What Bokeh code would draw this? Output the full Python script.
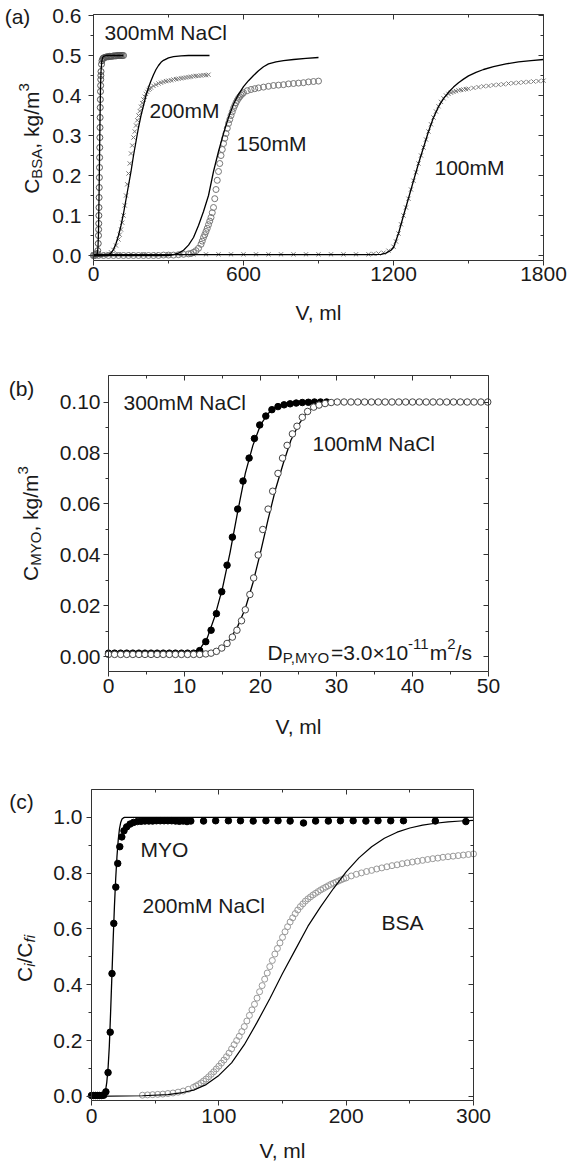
import math
from bokeh.plotting import figure
from bokeh.models import Range1d, LinearAxis, FixedTicker, Label, NumeralTickFormatter
from bokeh.layouts import column
from bokeh.embed import file_html
from bokeh.resources import INLINE

# ---------------- data: panel (a) BSA breakthrough ----------------
a300_v = [0, 5, 10, 14, 17, 19, 20, 20.5, 21, 21.5, 22, 22.5, 23, 23.5, 24, 24.5, 25, 25.5, 26, 26.5, 27, 27.5, 28, 28.5, 29, 29.5, 30,
          32, 34, 37, 40, 45, 50, 55, 60, 65, 70, 75, 80, 85, 90, 95, 100, 105, 110, 115, 120]
a300_c = [0, 0, 0.002, 0.005, 0.012, 0.03, 0.05, 0.065, 0.08, 0.1, 0.12, 0.145, 0.17, 0.195, 0.22, 0.245, 0.27, 0.295, 0.32, 0.345, 0.37, 0.39, 0.41, 0.425, 0.44, 0.45, 0.46,
          0.478, 0.487, 0.492, 0.494, 0.495, 0.496, 0.497, 0.497, 0.498, 0.498, 0.498, 0.499, 0.499, 0.499, 0.5, 0.5, 0.5, 0.5, 0.5, 0.5]
a300_fit_v = [0, 10, 15, 18, 20, 22, 24, 26, 28, 30, 33, 36, 40, 50, 60, 90, 120]
a300_fit_c = [0, 0, 0.005, 0.02, 0.06, 0.14, 0.24, 0.34, 0.42, 0.46, 0.485, 0.494, 0.498, 0.5, 0.5, 0.5, 0.5]

a200_v = [0, 10, 20, 30, 40, 50, 60, 70, 80, 90,
          100, 105, 110, 115, 120, 125, 130, 135, 140, 145, 150, 155, 160, 165, 170, 175, 180, 185, 190, 195, 200, 205, 210, 215, 220, 225, 230,
          240, 250, 260, 270, 280, 290, 300, 310, 320, 330, 340, 350, 360, 370, 380, 390, 400, 410, 420, 430, 440, 450, 460]
a200_c = [0, 0, 0, 0, 0.001, 0.002, 0.004, 0.008, 0.014, 0.025,
          0.04, 0.052, 0.065, 0.082, 0.1, 0.125, 0.15, 0.178, 0.205, 0.23, 0.255, 0.275, 0.295, 0.31, 0.325, 0.338, 0.35, 0.361, 0.372, 0.381, 0.39, 0.397, 0.404, 0.409, 0.414, 0.417, 0.42,
          0.424, 0.427, 0.43, 0.432, 0.434, 0.436, 0.437, 0.438, 0.44, 0.441, 0.442, 0.443, 0.444, 0.445, 0.446, 0.447, 0.448, 0.449, 0.449, 0.45, 0.451, 0.451, 0.452]
a200_fit_v = [0, 40, 60, 70, 80, 90, 100, 110, 120, 130, 140, 150, 160, 170, 180, 190, 200, 210, 220, 230, 240, 250, 260, 270, 280, 300, 320, 350, 380, 420, 464]
a200_fit_c = [0, 0, 0.002, 0.006, 0.015, 0.03, 0.05, 0.075, 0.105, 0.14, 0.175, 0.21, 0.25, 0.285, 0.32, 0.35, 0.375, 0.4, 0.42, 0.437, 0.452, 0.465, 0.475, 0.483, 0.488, 0.494, 0.497, 0.499, 0.5, 0.5, 0.5]

a150_v = [0, 20, 40, 60, 80, 100, 120, 140, 160, 180, 200, 220, 240, 260, 280, 300, 320, 340, 360, 380,
          390, 400, 410, 420,
          430, 435, 440, 445, 450, 455, 460, 465, 470, 475, 480, 485, 490, 495, 500, 505, 510, 515, 520, 525, 530, 535, 540, 545, 550,
          555, 560, 565, 570, 575, 580, 585, 590, 595, 600,
          615, 630, 645, 660,
          680, 700, 720, 740, 760, 780, 800, 820, 840, 860, 880, 900]
a150_c = [0, 0, 0, 0, 0, 0, 0, 0, 0, 0, 0, 0, 0, 0, 0.001, 0.001, 0.001, 0.002, 0.003, 0.004,
          0.005, 0.008, 0.012, 0.018,
          0.028, 0.036, 0.045, 0.052, 0.06, 0.068, 0.077, 0.086, 0.095, 0.107, 0.12, 0.142, 0.165, 0.188, 0.21, 0.23, 0.25, 0.265, 0.28, 0.293, 0.305, 0.318, 0.33, 0.34, 0.35,
          0.359, 0.368, 0.375, 0.382, 0.388, 0.393, 0.397, 0.401, 0.404, 0.407,
          0.412, 0.415, 0.417, 0.419,
          0.421, 0.423, 0.425, 0.426, 0.427, 0.429, 0.43, 0.431, 0.432, 0.434, 0.435, 0.436]
a150_fit_v = [0, 300, 320, 340, 360, 380, 400, 420, 440, 460, 480, 500, 520, 540, 560, 580, 600, 620, 640, 660, 680, 700, 730, 760, 800, 850, 900]
a150_fit_c = [0, 0, 0.002, 0.006, 0.013, 0.026, 0.045, 0.075, 0.11, 0.15, 0.21, 0.26, 0.305, 0.345, 0.378, 0.403, 0.422, 0.437, 0.45, 0.462, 0.472, 0.479, 0.484, 0.487, 0.49, 0.493, 0.495]

a100_v = [0, 50, 100, 150, 200, 250, 300, 350, 400, 450, 500, 550, 600, 650, 700, 750, 800, 850, 900, 950, 1000, 1050, 1100,
          1120, 1140, 1160, 1180, 1200,
          1210, 1220, 1230, 1240, 1250, 1260, 1270, 1280, 1290, 1300, 1310, 1320, 1330, 1340, 1350, 1360, 1370, 1380, 1390, 1400, 1410, 1420, 1430, 1440, 1450, 1460, 1470, 1480, 1490, 1500,
          1520, 1540, 1560, 1580, 1600, 1620, 1640, 1660, 1680, 1700, 1720, 1740, 1760, 1780, 1800]
a100_c = [0.003, 0.003, 0.003, 0.003, 0.003, 0.003, 0.003, 0.003, 0.003, 0.003, 0.003, 0.003, 0.003, 0.003, 0.003, 0.003, 0.003, 0.003, 0.003, 0.003, 0.003, 0.003, 0.003,
          0.004, 0.005, 0.007, 0.012, 0.022,
          0.035, 0.055, 0.078, 0.1, 0.12, 0.142, 0.165, 0.187, 0.208, 0.23, 0.25, 0.27, 0.29, 0.31, 0.328, 0.345, 0.36, 0.373, 0.384, 0.393, 0.4, 0.404, 0.407, 0.409, 0.411, 0.413, 0.414, 0.415, 0.416, 0.417,
          0.419, 0.421, 0.423, 0.424, 0.426, 0.427, 0.428, 0.43, 0.431, 0.432, 0.433, 0.434, 0.435, 0.436, 0.437]
a100_fit_v = [0, 1100, 1150, 1170, 1190, 1200, 1220, 1240, 1260, 1280, 1300, 1320, 1340, 1360, 1380, 1400, 1420, 1440, 1460, 1480, 1500, 1530, 1560, 1600, 1650, 1700, 1750, 1800]
a100_fit_c = [0.002, 0.002, 0.003, 0.006, 0.013, 0.02, 0.055, 0.1, 0.143, 0.187, 0.23, 0.27, 0.31, 0.345, 0.372, 0.392, 0.408, 0.421, 0.432, 0.441, 0.449, 0.458, 0.465, 0.472, 0.479, 0.484, 0.487, 0.49]

# ---------------- data: panel (b) MYO ----------------
b300_v = [0.0, 0.8, 1.6, 2.4, 3.2, 4.0, 4.8, 5.6, 6.4, 7.2, 8.0, 8.8, 9.6, 10.4, 11.2,
          12.0, 12.8, 13.5, 14.2, 14.9, 15.6, 16.3, 17.0, 17.7, 18.5, 19.2, 19.9, 20.7, 21.5, 22.3, 23.1, 23.9, 24.7, 25.5, 26.3, 27.1, 27.9, 28.7]
b300_c = [0.0015, 0.0015, 0.0015, 0.0015, 0.0015, 0.0015, 0.0015, 0.0015, 0.0015, 0.0015, 0.0015, 0.0015, 0.0015, 0.0015, 0.0015,
          0.0025, 0.006, 0.0105, 0.017, 0.0256, 0.036, 0.047, 0.058, 0.069, 0.078, 0.0857, 0.091, 0.0945, 0.097, 0.0982, 0.0989, 0.0993, 0.0996, 0.0998, 0.0999, 0.1, 0.1, 0.1]
b300_fit_v = [0, 10, 11, 12, 13, 14, 15, 16, 17, 18, 19, 20, 21, 22, 23, 24, 25, 26, 28, 30]
b300_fit_c = [0.0015, 0.0015, 0.0017, 0.003, 0.0075, 0.016, 0.027, 0.041, 0.057, 0.072, 0.083, 0.091, 0.0955, 0.098, 0.099, 0.0996, 0.0999, 0.1, 0.1, 0.1]

b100_v = [0.0, 0.8, 1.6, 2.4, 3.2, 4.0, 4.8, 5.6, 6.4, 7.2, 8.0, 8.8, 9.6, 10.4, 11.2, 12.0, 12.8, 13.5,
          14.2, 14.9, 15.6, 16.3, 16.9, 17.5, 18.0, 18.6, 19.1, 19.7, 20.3, 21.0, 21.6, 22.3, 22.9, 23.5, 24.2, 24.8, 25.5, 26.2, 27.0, 27.7, 28.5, 29.3, 30.1,
          31.0, 31.9, 32.8, 33.7, 34.6, 35.5, 36.4, 37.3, 38.2, 39.1, 40.0, 40.9, 41.8, 42.7, 43.6, 44.5, 45.4, 46.3, 47.2, 48.1, 49.0, 49.9]
b100_c = [0.001, 0.001, 0.001, 0.001, 0.001, 0.001, 0.001, 0.001, 0.001, 0.001, 0.001, 0.001, 0.001, 0.001, 0.001, 0.001, 0.0012, 0.0015,
          0.0022, 0.0035, 0.0053, 0.0078, 0.0105, 0.0142, 0.0185, 0.0245, 0.031, 0.04, 0.05, 0.058, 0.065, 0.072, 0.078, 0.083, 0.0875, 0.0905, 0.094, 0.0963, 0.098, 0.0988, 0.0994, 0.0998, 0.1,
          0.1, 0.1, 0.1, 0.1, 0.1, 0.1, 0.1, 0.1, 0.1, 0.1, 0.1, 0.1, 0.1, 0.1, 0.1, 0.1, 0.1, 0.1, 0.1, 0.1, 0.1, 0.1]
b100_fit_v = [0, 13, 14, 15, 16, 17, 18, 19, 20, 21, 22, 23, 24, 25, 26, 27, 28, 29, 30, 35, 40, 50]
b100_fit_c = [0.001, 0.0012, 0.0022, 0.004, 0.007, 0.012, 0.019, 0.029, 0.041, 0.054, 0.066, 0.076, 0.085, 0.091, 0.0955, 0.098, 0.0992, 0.0997, 0.1, 0.1, 0.1, 0.1]

# ---------------- data: panel (c) normalized, 200 mM NaCl ----------------
c_myo_v = [0, 1.6, 3.2, 4.8, 6.4, 8.0, 9.6,
           11.3, 13.0, 14.7, 16.1, 17.5, 19.1, 20.6, 22.2, 23.8, 25.5, 27.6, 30.3,
           33, 36, 39, 42, 45, 48, 51, 54, 57, 60, 63, 66, 69, 72, 75, 78,
           88, 97.5, 107.5, 117, 127, 137, 146.5, 156, 166.5, 176, 186, 195.5, 205.5, 215.5, 225, 235, 245,
           270, 294]
c_myo_c = [0.003, 0.003, 0.003, 0.003, 0.003, 0.003, 0.004,
           0.016, 0.085, 0.23, 0.44, 0.62, 0.75, 0.835, 0.895, 0.93, 0.952, 0.966, 0.976,
           0.982, 0.985, 0.986, 0.987, 0.987, 0.987, 0.988, 0.988, 0.988, 0.988, 0.988, 0.987, 0.986, 0.987, 0.985, 0.987,
           0.987, 0.988, 0.988, 0.988, 0.987, 0.988, 0.988, 0.987, 0.98, 0.987, 0.987, 0.988, 0.988, 0.987, 0.988, 0.988, 0.988,
           0.987, 0.985]
c_myo_fit_v = [0, 9, 10, 11, 12, 13, 14, 15, 16, 17, 18, 19, 20, 21, 22, 23, 24, 25, 26, 300]
c_myo_fit_c = [0, 0, 0.005, 0.02, 0.05, 0.1, 0.18, 0.3, 0.43, 0.56, 0.68, 0.78, 0.86, 0.92, 0.96, 0.983, 0.994, 0.998, 1.0, 1.0]

c_bsa_v = [40, 44, 48, 52, 56, 60, 64, 68, 72, 76,
           80, 82, 84, 86, 88, 90, 92, 94, 96, 98, 100, 102, 104, 106, 108, 110, 112, 114, 116, 118,
           120, 122, 124, 126, 128, 130, 132, 134, 136, 138, 140, 142, 144, 146, 148, 150, 152, 154, 156, 158,
           160, 162, 164, 166, 168, 170, 172, 174, 176, 178, 180, 182, 184, 186, 188, 190, 192, 194, 196, 198, 200,
           204, 208, 212, 216, 220, 224, 228, 232, 236, 240, 244, 248, 252, 256, 260, 264, 268, 272, 276,
           280, 284, 288, 292, 296, 300]
c_bsa_c = [0.004, 0.005, 0.006, 0.007, 0.008, 0.01, 0.012, 0.015, 0.019, 0.025,
           0.032, 0.037, 0.042, 0.048, 0.055, 0.062, 0.07, 0.079, 0.088, 0.098, 0.108, 0.119, 0.13, 0.142, 0.155, 0.17, 0.185, 0.2, 0.215, 0.232,
           0.25, 0.27, 0.29, 0.31, 0.33, 0.352, 0.375, 0.397, 0.42, 0.442, 0.465, 0.487, 0.51, 0.53, 0.55, 0.57, 0.59, 0.608, 0.625, 0.64,
           0.655, 0.668, 0.68, 0.69, 0.7, 0.708, 0.715, 0.722, 0.728, 0.734, 0.74, 0.745, 0.75, 0.755, 0.76, 0.764, 0.768, 0.772, 0.776, 0.78, 0.783,
           0.79, 0.796, 0.801, 0.806, 0.81, 0.815, 0.819, 0.823, 0.827, 0.83, 0.834, 0.837, 0.84, 0.843, 0.846, 0.849, 0.852, 0.854, 0.857,
           0.859, 0.861, 0.863, 0.865, 0.867, 0.869]
c_bsa_fit_v = [0, 40, 60, 70, 80, 90, 100, 110, 120, 130, 140, 150, 160, 170, 180, 190, 200, 210, 220, 230, 240, 250, 260, 270, 280, 290, 300]
c_bsa_fit_c = [0, 0.002, 0.006, 0.012, 0.022, 0.042, 0.075, 0.12, 0.185, 0.265, 0.35, 0.44, 0.525, 0.61, 0.68, 0.745, 0.805, 0.855, 0.895, 0.925, 0.947, 0.962, 0.972, 0.979, 0.984, 0.987, 0.989]

# tick positions
a_xticks = [0, 600, 1200, 1800]
a_xminor = [300, 900, 1500]
a_yticks = [0.0, 0.1, 0.2, 0.3, 0.4, 0.5, 0.6]
a_yminor = [0.05, 0.15, 0.25, 0.35, 0.45, 0.55]
b_xticks = [0, 10, 20, 30, 40, 50]
b_xminor = [5, 15, 25, 35, 45]
b_yticks = [0.0, 0.02, 0.04, 0.06, 0.08, 0.10]
b_yminor = [0.01, 0.03, 0.05, 0.07, 0.09]
c_xticks = [0, 100, 200, 300]
c_xminor = [50, 150, 250]
c_yticks = [0.0, 0.2, 0.4, 0.6, 0.8, 1.0]
c_yminor = [0.1, 0.3, 0.5, 0.7, 0.9]

# ---------------- styling helpers ----------------
FONT = "Liberation Sans"
FS = 21
SUB = 15
INK = "#1a1a1a"
AX = "#333333"
PAGE_W = 568

W = {'.': .278, ',': .278, ' ': .278, 'C': .722, 'B': .667, 'S': .667, 'A': .667, 'k': .5, 'g': .556,
     '/': .278, 'm': .833, 'M': .833, 'Y': .667, 'O': .778, 'i': .222, 'f': .278, 'P': .667, 'D': .722,
     '=': .584, '\u00d7': .584, '-': .333, 's': .5, 'N': .722, 'a': .556, 'l': .222}


def tw(s, fs):
    return sum(W.get(ch, .556) for ch in s) * fs


class Fr:
    """Figure whose frame fills the whole canvas; the plot box sits at page pixels bx0..bx1, by0..by1."""
    def __init__(self, top, height, bx0, bx1, by0, by1, xb, yb):
        self.top, self.height = top, height
        self.xb, self.yb = xb, yb
        self.kx = (xb[1] - xb[0]) / (bx1 - bx0)
        self.ky = (yb[1] - yb[0]) / (by1 - by0)
        self.xr = (xb[0] - bx0 * self.kx, xb[1] + (PAGE_W - bx1) * self.kx)
        self.yr = (yb[0] - (top + height - by1) * self.ky, yb[1] + (by0 - top) * self.ky)

    def dx(self, px):
        return self.xr[0] + px * self.kx

    def dy(self, py):
        return self.yr[1] - (py - self.top) * self.ky


def style_axis(ax, ticks, minor, tick_out, tick_in):
    ax.ticker = FixedTicker(ticks=ticks, minor_ticks=minor)
    ax.axis_line_color = AX
    ax.axis_line_width = 1
    ax.major_tick_line_color = AX
    ax.minor_tick_line_color = AX
    ax.major_tick_out = tick_out
    ax.major_tick_in = tick_in
    ax.minor_tick_out = 3 if tick_out else 0
    ax.minor_tick_in = 3 if tick_in else 0


def make_fig(fr, xt, xm, yt, ym, yfmt, xstand, ystand):
    p = figure(width=PAGE_W, height=fr.height, x_range=Range1d(*fr.xr), y_range=Range1d(*fr.yr),
               output_backend="svg", toolbar_location=None,
               min_border=0, min_border_left=0, min_border_right=0, min_border_top=0, min_border_bottom=0)
    p.background_fill_color = "white"
    p.border_fill_color = "white"
    p.outline_line_color = None
    p.xgrid.visible = False
    p.ygrid.visible = False
    xa, ya = p.xaxis[0], p.yaxis[0]
    xa.fixed_location = fr.yb[0]
    xa.bounds = fr.xb
    ya.fixed_location = fr.xb[0]
    ya.bounds = fr.yb
    for ax, ticks, minor, fmt, stand in ((xa, xt, xm, "0", xstand), (ya, yt, ym, yfmt, ystand)):
        style_axis(ax, ticks, minor, 5, 0)
        ax.formatter = NumeralTickFormatter(format=fmt)
        ax.major_label_text_font = FONT
        ax.major_label_text_font_size = f"{FS}px"
        ax.major_label_text_color = INK
        ax.major_label_standoff = stand
    for loc, ticks, minor, fixed, bounds in (("right", yt, ym, fr.xb[1], fr.yb), ("above", xt, xm, fr.yb[1], fr.xb)):
        ax = LinearAxis(fixed_location=fixed, bounds=bounds)
        style_axis(ax, ticks, minor, 0, 5)
        ax.major_label_text_color = None
        ax.major_label_text_font_size = "1px"
        ax.major_label_standoff = 0
        p.add_layout(ax, loc)
    return p


def label(p, fr, px, py, text, align="left", baseline="middle", fs=FS):
    p.add_layout(Label(x=fr.dx(px), y=fr.dy(py), text=text, text_font=FONT, text_font_size=f"{fs}px",
                       text_align=align, text_baseline=baseline, text_color=INK))


def rich_h(p, fr, x0, ybase, pieces):
    x = x0
    for txt, fs, shift, style in pieces:
        p.add_layout(Label(x=fr.dx(x), y=fr.dy(ybase + shift), text=txt, text_font=FONT,
                           text_font_size=f"{fs}px", text_font_style=style, text_align="left",
                           text_baseline="alphabetic", text_color=INK))
        x += tw(txt, fs)


def rich_v(p, fr, xbase, ycenter, pieces):
    total = sum(tw(t, fs) for t, fs, sh, st in pieces)
    y = ycenter + total / 2
    for txt, fs, shift, style in pieces:
        p.add_layout(Label(x=fr.dx(xbase + shift), y=fr.dy(y), text=txt, angle=math.pi / 2, text_font=FONT,
                           text_font_size=f"{fs}px", text_font_style=style, text_align="left",
                           text_baseline="alphabetic", text_color=INK))
        y -= tw(txt, fs)


# ---------------- panel (a) ----------------
fa = Fr(0, 340, 93, 543, 14, 260, (0, 1800), (-0.0125, 0.6025))
pa = make_fig(fa, a_xticks, a_xminor, a_yticks, a_yminor, "0.0", 1, 7)
pa.scatter(a300_v, a300_c, marker="circle", size=6, fill_color=None, line_color="#555555", line_width=1)
pa.scatter(a200_v, a200_c, marker="x", size=6, line_color="#777777", line_width=1)
pa.scatter(a150_v, a150_c, marker="circle", size=6, fill_color=None, line_color="#777777", line_width=1)
pa.scatter(a100_v, a100_c, marker="x", size=6, line_color="#777777", line_width=1)
for v, c in ((a300_fit_v, a300_fit_c), (a200_fit_v, a200_fit_c), (a150_fit_v, a150_fit_c), (a100_fit_v, a100_fit_c)):
    pa.line(v, c, line_color="black", line_width=1.3)
label(pa, fa, 17, 16, "(a)", align="center")
label(pa, fa, 104, 32, "300mM NaCl")
label(pa, fa, 149, 110, "200mM")
label(pa, fa, 236, 143, "150mM")
label(pa, fa, 434, 167, "100mM")
label(pa, fa, 318, 312, "V, ml", align="center")
rich_v(pa, fa, 31, 138, [("C", FS, 0, "normal"), ("BSA", SUB, 5, "normal"), (", kg/m", FS, 0, "normal"), ("3", SUB, -8, "normal")])

# ---------------- panel (b) ----------------
fb = Fr(340, 420, 108, 488, 375, 671, (0, 50), (-0.0057, 0.1104))
pb = make_fig(fb, b_xticks, b_xminor, b_yticks, b_yminor, "0.00", 2, 3)
pb.line(b300_fit_v, b300_fit_c, line_color="black", line_width=1.3)
pb.line(b100_fit_v, b100_fit_c, line_color="black", line_width=1.3)
pb.scatter(b300_v, b300_c, marker="circle", size=6.5, fill_color="black", line_color="black")
pb.scatter(b100_v, b100_c, marker="circle", size=6.5, fill_color="white", line_color="#444444", line_width=1)
label(pb, fb, 21, 388, "(b)", align="center")
label(pb, fb, 123, 402, "300mM NaCl")
label(pb, fb, 312, 443, "100mM NaCl")
label(pb, fb, 298, 726, "V, ml", align="center")
rich_v(pb, fb, 30, 523, [("C", FS, 0, "normal"), ("MYO", SUB, 5, "normal"), (", kg/m", FS, 0, "normal"), ("3", SUB, -8, "normal")])
rich_h(pb, fb, 267, 652, [("D", FS, 0, "normal"), ("P,MYO", SUB, 5, "normal"), ("=3.0\u00d710", FS, 0, "normal"),
                          ("-11", SUB, -9, "normal"), ("m", FS, 0, "normal"), ("2", SUB, -9, "normal"), ("/s", FS, 0, "normal")])

# ---------------- panel (c) ----------------
fc = Fr(760, 403, 91, 473, 789, 1100, (0, 300), (-0.015, 1.1))
pc = make_fig(fc, c_xticks, c_xminor, c_yticks, c_yminor, "0.0", 3, 4)
pc.scatter(c_bsa_v, c_bsa_c, marker="circle", size=6, fill_color=None, line_color="#999999", line_width=1)
pc.line(c_bsa_fit_v, c_bsa_fit_c, line_color="black", line_width=1.2)
pc.line(c_myo_fit_v, c_myo_fit_c, line_color="black", line_width=1.3)
pc.scatter(c_myo_v, c_myo_c, marker="circle", size=6.5, fill_color="black", line_color="black")
label(pc, fc, 21, 801, "(c)", align="center")
label(pc, fc, 140, 849, "MYO")
label(pc, fc, 142, 905, "200mM NaCl")
label(pc, fc, 381, 922, "BSA")
label(pc, fc, 282, 1150, "V, ml", align="center")
rich_v(pc, fc, 24, 958, [("C", FS, 0, "normal"), ("i", SUB, 5, "italic"), ("/C", FS, 0, "normal"), ("fi", SUB, 5, "italic")])

layout = column(pa, pb, pc, spacing=0)
open("out.html", "w").write(file_html(layout, INLINE))
